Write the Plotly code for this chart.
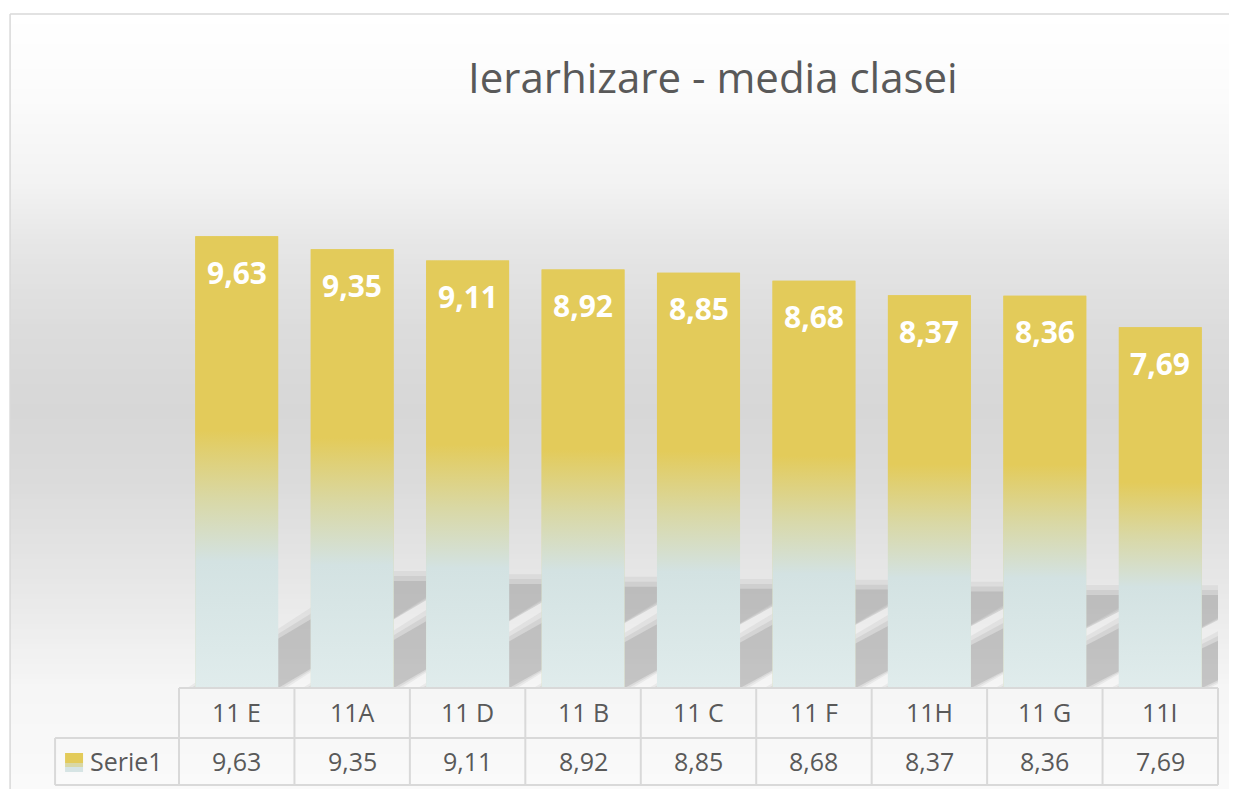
import plotly.graph_objects as go

# ---- data ----
categories = ["11 E", "11A", "11 D", "11 B", "11 C", "11 F", "11H", "11 G", "11I"]
values = [9.63, 9.35, 9.11, 8.92, 8.85, 8.68, 8.37, 8.36, 7.69]
series_name = "Serie1"
title_text = "Ierarhizare - media clasei"

def fmt(v):
    return f"{v:.2f}".replace(".", ",")

# ---- geometry helpers (reference pixel -> paper) ----
OFF = 8  # page body margin
W, H = 1237 - OFF, 789 - OFF
PL, PR, PT, PB = 179, 1218.5, 125, 688
def fx(px):
    return (px - PL) / (PR - PL)
def fy(py):
    return (PB - py) / (PB - PT)

YELLOW = "#E3CB5A"
TXT = "#595959"
GRID = "#D9D9D9"
BAR_W = 0.72
n = len(categories)
idx = list(range(n))

shapes = []
# background gradient of chart area
stops = [(14, 255), (100, 251), (180, 243), (200, 239), (260, 228), (330, 220),
         (410, 215), (480, 219), (540, 226), (613, 235), (689, 246), (789, 250)]
def gray_at(py):
    for (a, ga), (b, gb) in zip(stops[:-1], stops[1:]):
        if a <= py <= b:
            t = (py - a) / (b - a)
            return ga + (gb - ga) * t
    return stops[-1][1]
step = 5
py = 14
while py < 789:
    g = int(round(gray_at(py + step / 2)))
    shapes.append(dict(type="rect", xref="paper", yref="paper", layer="below",
                       x0=fx(10), x1=fx(1245), y0=fy(py), y1=fy(min(py + step + 0.6, 795)),
                       fillcolor=f"rgb({g},{g},{g})", line=dict(width=0)))
    py += step
# chart area border
shapes.append(dict(type="line", xref="paper", yref="paper", layer="below",
                   x0=fx(10), x1=fx(1245), y0=fy(14), y1=fy(14), line=dict(color=GRID, width=1.5)))
shapes.append(dict(type="line", xref="paper", yref="paper", layer="below",
                   x0=fx(10), x1=fx(10), y0=fy(14), y1=fy(795), line=dict(color=GRID, width=1.5)))

# perspective shadows behind bars (derived from values), soft edges via layers
SHIFT = 1.56
SH = 0.237
for i, v in zip(idx, values):
    xl, xr = i - BAR_W / 2, i + BAR_W / 2
    h = SH * v
    for grow, op in [(0.07, 0.10), (0.035, 0.14), (0.0, 0.25)]:
        dy = grow * 3
        path = (f"M {xl - grow},{0} L {xr + grow},{0} L {xr + SHIFT + grow},{h + dy} "
                f"L {xl + SHIFT - grow},{h + dy} Z")
        shapes.append(dict(type="path", xref="x", yref="y", layer="below", path=path,
                           fillcolor=f"rgba(130,130,130,{op})", line=dict(width=0)))

# data table lines
x_tab_left = fx(55)
shapes.append(dict(type="line", xref="paper", yref="paper", x0=0, x1=1, y0=fy(688), y1=fy(688),
                   line=dict(color=GRID, width=2)))
for py_ in (738, 785):
    shapes.append(dict(type="line", xref="paper", yref="paper", x0=x_tab_left, x1=1,
                       y0=fy(py_), y1=fy(py_), line=dict(color=GRID, width=2)))
for k in range(n + 1):
    shapes.append(dict(type="line", xref="paper", yref="paper", x0=k / n, x1=k / n,
                       y0=fy(688), y1=fy(785), line=dict(color=GRID, width=2)))
shapes.append(dict(type="line", xref="paper", yref="paper", x0=x_tab_left, x1=x_tab_left,
                   y0=fy(738), y1=fy(785), line=dict(color=GRID, width=2)))
# legend key (gradient swatch)
key = [(753, 763, YELLOW), (763, 767, "#D9D8A5"), (767, 772, "#D6E4E4")]
for a, b, c in key:
    shapes.append(dict(type="rect", xref="paper", yref="paper", x0=fx(65), x1=fx(83),
                       y0=fy(b), y1=fy(a), fillcolor=c, line=dict(width=0)))

fig = go.Figure()
fig.add_trace(go.Bar(x=idx, y=values, width=BAR_W - 0.006, name=series_name,
                     marker=dict(color=YELLOW, line=dict(width=0)),
                     hovertemplate="%{y}<extra></extra>"))
# vertical gradient over each bar
for i, v in zip(idx, values):
    xl, xr = i - BAR_W / 2, i + BAR_W / 2
    fig.add_trace(go.Scatter(
        x=[xl, xr, xr, xl, xl], y=[0, 0, v, v, 0], mode="none",
        fill="toself", hoverinfo="skip", showlegend=False,
        fillgradient=dict(type="vertical", start=0, stop=v,
                          colorscale=[[0, "#E0ECEC"], [0.28, "#D3E2E2"], [0.42, "#D9D8A5"],
                                      [0.57, YELLOW], [1, YELLOW]])))

annotations = []
for i, v in zip(idx, values):
    annotations.append(dict(x=i, y=v, xref="x", yref="y", text=fmt(v), showarrow=False,
                            xanchor="center", yanchor="middle", yshift=-36,
                            font=dict(family="Open Sans", size=30, color="white", weight="bold")))
for i, (c, v) in enumerate(zip(categories, values)):
    annotations.append(dict(x=(i + 0.5) / n, y=fy(712), xref="paper", yref="paper", text=c,
                            showarrow=False, xanchor="center", yanchor="middle",
                            font=dict(family="Open Sans", size=25, color=TXT)))
    annotations.append(dict(x=(i + 0.5) / n, y=fy(761), xref="paper", yref="paper", text=fmt(v),
                            showarrow=False, xanchor="center", yanchor="middle",
                            font=dict(family="Open Sans", size=25, color=TXT)))
annotations.append(dict(x=fx(88), y=fy(761), xref="paper", yref="paper", text=series_name,
                        showarrow=False, xanchor="left", yanchor="middle",
                        font=dict(family="Open Sans", size=25, color=TXT)))
annotations.append(dict(x=fx(713), y=fy(77), xref="paper", yref="paper", text=title_text,
                        showarrow=False, xanchor="center", yanchor="middle",
                        font=dict(family="Open Sans", size=42, color=TXT)))

fig.update_layout(
    width=W, height=H,
    margin=dict(l=PL - OFF, r=W - (PR - OFF), t=PT - OFF, b=H - (PB - OFF), pad=0),
    paper_bgcolor="white", plot_bgcolor="rgba(0,0,0,0)",
    showlegend=False,
    xaxis=dict(range=[-0.5, n - 0.5], visible=False, fixedrange=True),
    yaxis=dict(range=[0, 12], visible=False, fixedrange=True),
    shapes=shapes, annotations=annotations,
)
fig.write_html("out.html")
